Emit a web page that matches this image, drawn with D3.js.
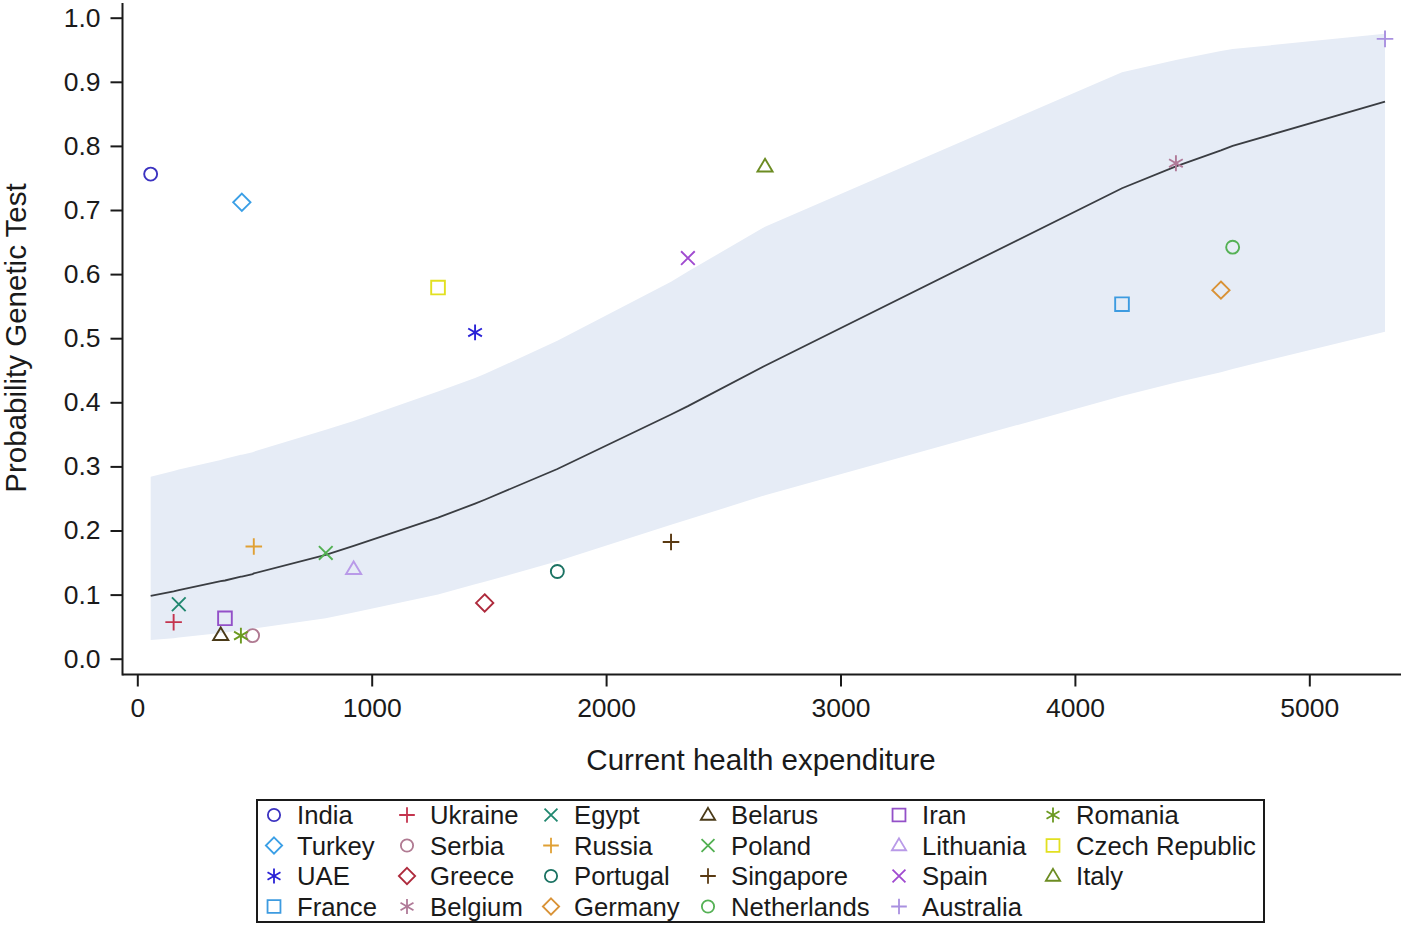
<!DOCTYPE html>
<html>
<head>
<meta charset="utf-8">
<script src="https://cdn.jsdelivr.net/npm/d3@7"></script>
<style>
  body { margin: 0; background: #fff; }
  svg { display: block; font-family: "Liberation Sans", Arial, sans-serif; }
</style>
</head>
<body>
<svg width="1401" height="926"></svg>
<script>
// Overall dimension of the canvas
const width = 1401, height = 926;

// Countries (legend order, column by column)
const countries = ["India", "Turkey", "UAE", "France",
                   "Ukraine", "Serbia", "Greece", "Belgium",
                   "Egypt", "Russia", "Portugal", "Germany",
                   "Belarus", "Poland", "Singapore", "Netherlands",
                   "Iran", "Lithuania", "Spain", "Australia",
                   "Romania", "Czech Republic", "Italy"];
const expenditure = [57, 446, 1441, 4201,
                     155, 492, 1482, 4431,
                     177, 497, 1792, 4623,
                     356, 804, 2277, 4673,
                     374, 923, 2349, 5323,
                     442, 1283, 2678];
const probability = [0.756, 0.712, 0.509, 0.553,
                     0.057, 0.036, 0.087, 0.773,
                     0.085, 0.175, 0.136, 0.575,
                     0.037, 0.165, 0.182, 0.642,
                     0.063, 0.140, 0.625, 0.967,
                     0.036, 0.579, 0.768];

// Fitted probability and 95% band, read at the sorted expenditure values
const fitX = [57, 155, 177, 356, 374, 442, 446, 492, 497, 804, 923, 1283, 1441, 1482,
              1792, 2277, 2349, 2678, 4201, 4431, 4623, 4673, 5323];
const fitP = [0.098, 0.105, 0.107, 0.121, 0.122, 0.128, 0.128, 0.132, 0.133, 0.162, 0.176, 0.220,
              0.242, 0.248, 0.296, 0.381, 0.394, 0.457, 0.734, 0.768, 0.793, 0.800, 0.869];
const ciLow = [0.029, 0.032, 0.033, 0.040, 0.041, 0.044, 0.044, 0.046, 0.047, 0.063, 0.072, 0.100,
               0.116, 0.120, 0.152, 0.209, 0.217, 0.255, 0.410, 0.431, 0.447, 0.452, 0.510];
const ciHigh = [0.284, 0.293, 0.295, 0.310, 0.312, 0.318, 0.318, 0.322, 0.323, 0.357, 0.371, 0.417,
                0.438, 0.444, 0.496, 0.588, 0.604, 0.674, 0.915, 0.934, 0.948, 0.951, 0.975];

const xTicks = [0, 1000, 2000, 3000, 4000, 5000];
const yTicks = [0, 0.1, 0.2, 0.3, 0.4, 0.5, 0.6, 0.7, 0.8, 0.9, 1.0];

// Marker styles per country (same order as countries)
const shapes = ["circle", "diamond", "asterisk", "square",
                "plus", "circle", "diamond", "asterisk",
                "x", "plus", "circle", "diamond",
                "triangle", "x", "plus", "circle",
                "square", "triangle", "x", "plus",
                "asterisk", "square", "triangle"];
const colors = ["#3b32c0", "#3a9fe6", "#2a22d6", "#3d9be0",
                "#c4344e", "#b07a92", "#ae2a3c", "#b07a98",
                "#20876f", "#e0a034", "#1a7262", "#d99236",
                "#4a3a18", "#52b052", "#5a3a12", "#55b155",
                "#9350c8", "#b99ae8", "#a04ad0", "#a990e0",
                "#6c9a22", "#e2e020", "#6c8c22"];

const svg = d3.select("svg");

const x = d3.scaleLinear().domain([0, 5000]).range([137.3, 1309.3]);
const y = d3.scaleLinear().domain([0, 1]).range([658.7, 17.7]);

// marker outline path centred at 0,0
function markerPath(shape, s) {
    const p = d3.path();
    if (shape === "circle") {
        p.moveTo(s * 0.9, 0);
        p.arc(0, 0, s * 0.9, 0, 2 * Math.PI);
    } else if (shape === "square") {
        p.rect(-s * 0.95, -s * 0.95, s * 1.9, s * 1.9);
    } else if (shape === "diamond") {
        const d = s * 1.2;
        p.moveTo(0, -d); p.lineTo(d, 0); p.lineTo(0, d); p.lineTo(-d, 0); p.closePath();
    } else if (shape === "triangle") {
        const h = s * 1.75, w = s * 1.05;
        p.moveTo(0, -h * 0.6); p.lineTo(w, h * 0.4); p.lineTo(-w, h * 0.4); p.closePath();
    } else if (shape === "plus") {
        const d = s * 1.15;
        p.moveTo(-d, 0); p.lineTo(d, 0); p.moveTo(0, -d); p.lineTo(0, d);
    } else if (shape === "x") {
        const d = s * 0.95;
        p.moveTo(-d, -d); p.lineTo(d, d); p.moveTo(-d, d); p.lineTo(d, -d);
    } else if (shape === "asterisk") {
        const d = s * 1.1, a = d * Math.cos(Math.PI / 6), b = d * Math.sin(Math.PI / 6);
        p.moveTo(0, -d); p.lineTo(0, d);
        p.moveTo(-a, -b); p.lineTo(a, b);
        p.moveTo(-a, b); p.lineTo(a, -b);
    }
    return p.toString();
}

// Confidence band
const bandData = fitX.map((v, i) => ({x: v, lo: ciLow[i], hi: ciHigh[i], p: fitP[i]}));
svg.append("path")
    .datum(bandData)
    .attr("d", d3.area().x(d => x(d.x)).y0(d => y(d.lo)).y1(d => y(d.hi)))
    .attr("fill", "#e6ecf6");

// Fitted curve
svg.append("path")
    .datum(bandData)
    .attr("d", d3.line().x(d => x(d.x)).y(d => y(d.p)))
    .attr("fill", "none")
    .attr("stroke", "#3a3d42")
    .attr("stroke-width", 1.8);

// Axes
const xAxis = svg.append("g")
    .attr("transform", "translate(0,674.5)")
    .call(d3.axisBottom(x).tickValues(xTicks).tickFormat(d3.format("d")).tickSize(12).tickPadding(12));
const yAxis = svg.append("g")
    .attr("transform", "translate(122.5,0)")
    .call(d3.axisLeft(y).tickValues(yTicks).tickFormat(d3.format(".1f")).tickSize(12).tickPadding(10));
[xAxis, yAxis].forEach(g => {
    g.select(".domain").remove();
    g.selectAll(".tick line").attr("stroke", "#1a1a1a").attr("stroke-width", 2);
    g.selectAll(".tick text").attr("fill", "#1a1a1a").style("font-size", "26.5px")
        .style("font-family", "'Liberation Sans', Arial, sans-serif");
});
svg.append("line").attr("x1", 122.5).attr("x2", 1401).attr("y1", 674.5).attr("y2", 674.5)
    .attr("stroke", "#1a1a1a").attr("stroke-width", 2);
svg.append("line").attr("x1", 122.5).attr("x2", 122.5).attr("y1", 3).attr("y2", 675.5)
    .attr("stroke", "#1a1a1a").attr("stroke-width", 2);

// Axis titles
svg.append("text")
    .attr("x", 761).attr("y", 770)
    .attr("text-anchor", "middle")
    .style("font-size", "29.5px").attr("fill", "#1a1a1a")
    .text("Current health expenditure");
svg.append("text")
    .attr("transform", "translate(26,338) rotate(-90)")
    .attr("text-anchor", "middle")
    .style("font-size", "29.5px").attr("fill", "#1a1a1a")
    .text("Probability Genetic Test");

// Points
svg.selectAll(".pt")
    .data(countries)
    .join("path")
    .attr("class", "pt")
    .attr("transform", (d, i) => `translate(${x(expenditure[i])},${y(probability[i])})`)
    .attr("d", (d, i) => markerPath(shapes[i], 7.2))
    .attr("fill", "none")
    .attr("stroke", (d, i) => colors[i])
    .attr("stroke-width", 1.9);

// Legend
const legendCols = [274, 407, 551, 708, 899, 1053];
const legendRows = [815, 845.5, 876, 906.5];
svg.append("rect")
    .attr("x", 257).attr("y", 800).attr("width", 1007).attr("height", 122)
    .attr("fill", "none").attr("stroke", "#1a1a1a").attr("stroke-width", 2);

const legendItems = svg.selectAll(".legend-item")
    .data(countries)
    .join("g")
    .attr("class", "legend-item")
    .attr("transform", (d, i) => `translate(${legendCols[Math.floor(i / 4)]},${legendRows[i % 4]})`);
legendItems.append("path")
    .attr("d", (d, i) => markerPath(shapes[i], 6.8))
    .attr("fill", "none")
    .attr("stroke", (d, i) => colors[i])
    .attr("stroke-width", 1.8);
legendItems.append("text")
    .attr("x", 23).attr("y", 9)
    .style("font-size", "25.7px").attr("fill", "#1a1a1a")
    .text(d => d);
</script>
</body>
</html>
